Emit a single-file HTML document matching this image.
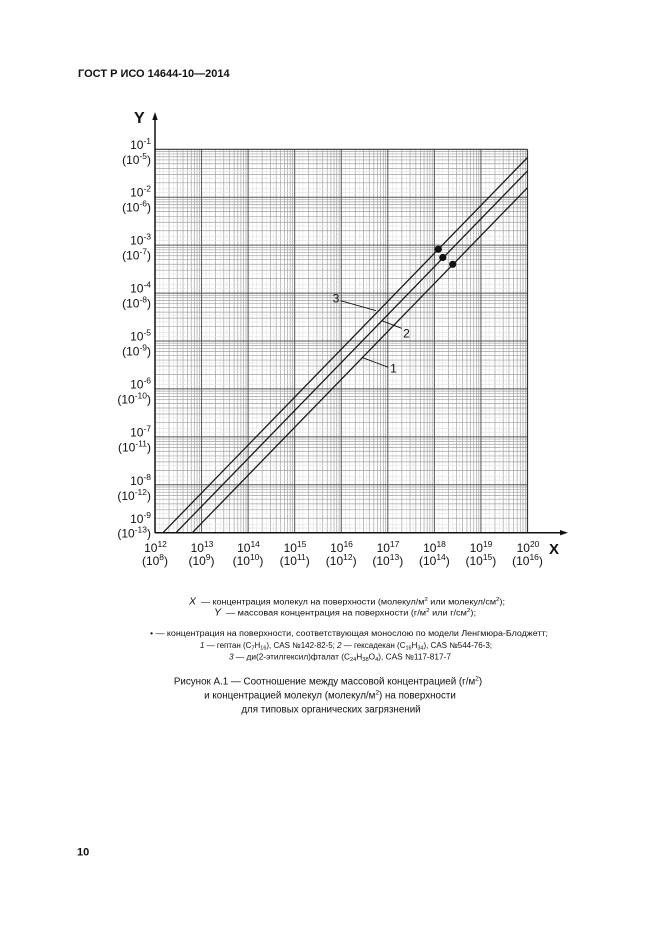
<!DOCTYPE html>
<html><head><meta charset="utf-8">
<style>
html,body{margin:0;padding:0;background:#fff;}
svg{display:block;}
text{font-family:"Liberation Sans",Arial,sans-serif;fill:#111;}
</style></head>
<body>
<svg width="661" height="935" viewBox="0 0 661 935" xmlns="http://www.w3.org/2000/svg">
<rect width="661" height="935" fill="#fff"/>
<defs>
  <g id="vdec">
    <g stroke="#e2e2e2" stroke-width="0.6">
      <line x1="4.5" y1="149.3" x2="4.5" y2="532.7"/>
      <line x1="8.2" y1="149.3" x2="8.2" y2="532.7"/>
      <line x1="18.529" y1="149.3" x2="18.529" y2="532.7"/>
      <line x1="25.33" y1="149.3" x2="25.33" y2="532.7"/>
    </g>
    <g stroke="#a2a2a2" stroke-width="0.7">
      <line x1="14.017" y1="149.3" x2="14.017" y2="532.7"/>
      <line x1="22.216" y1="149.3" x2="22.216" y2="532.7"/>
      <line x1="28.034" y1="149.3" x2="28.034" y2="532.7"/>
      <line x1="32.545" y1="149.3" x2="32.545" y2="532.7"/>
      <line x1="36.233" y1="149.3" x2="36.233" y2="532.7"/>
      <line x1="39.35" y1="149.3" x2="39.35" y2="532.7"/>
      <line x1="42.05" y1="149.3" x2="42.05" y2="532.7"/>
      <line x1="44.432" y1="149.3" x2="44.432" y2="532.7"/>
    </g>
  </g>
  <g id="hdec">
    <g stroke="#e2e2e2" stroke-width="0.6">
      <line x1="155" y1="21.85" x2="527.5" y2="21.85"/>
      <line x1="155" y1="28.854" x2="527.5" y2="28.854"/>
      <line x1="155" y1="39.5" x2="527.5" y2="39.5"/>
      <line x1="155" y1="43.3" x2="527.5" y2="43.3"/>
    </g>
    <g stroke="#a2a2a2" stroke-width="0.7">
      <line x1="155" y1="2.193" x2="527.5" y2="2.193"/>
      <line x1="155" y1="4.644" x2="527.5" y2="4.644"/>
      <line x1="155" y1="7.424" x2="527.5" y2="7.424"/>
      <line x1="155" y1="10.632" x2="527.5" y2="10.632"/>
      <line x1="155" y1="14.427" x2="527.5" y2="14.427"/>
      <line x1="155" y1="19.071" x2="527.5" y2="19.071"/>
      <line x1="155" y1="25.059" x2="527.5" y2="25.059"/>
      <line x1="155" y1="33.498" x2="527.5" y2="33.498"/>
    </g>
  </g>
</defs>

<!-- header -->
<text x="78" y="77" font-size="11" font-weight="bold">ГОСТ Р ИСО 14644-10—2014</text>

<!-- minor grid -->
<use href="#vdec" x="155"/>
<use href="#vdec" x="201.5625"/>
<use href="#vdec" x="248.125"/>
<use href="#vdec" x="294.6875"/>
<use href="#vdec" x="341.25"/>
<use href="#vdec" x="387.8125"/>
<use href="#vdec" x="434.375"/>
<use href="#vdec" x="480.9375"/>
<use href="#hdec" y="149.3"/>
<use href="#hdec" y="197.225"/>
<use href="#hdec" y="245.15"/>
<use href="#hdec" y="293.075"/>
<use href="#hdec" y="341"/>
<use href="#hdec" y="388.925"/>
<use href="#hdec" y="436.85"/>
<use href="#hdec" y="484.775"/>

<!-- decade lines -->
<g stroke="#555" stroke-width="1">
  <line x1="201.5625" y1="149.3" x2="201.5625" y2="532.7"/>
  <line x1="248.125" y1="149.3" x2="248.125" y2="532.7"/>
  <line x1="294.6875" y1="149.3" x2="294.6875" y2="532.7"/>
  <line x1="341.25" y1="149.3" x2="341.25" y2="532.7"/>
  <line x1="387.8125" y1="149.3" x2="387.8125" y2="532.7"/>
  <line x1="434.375" y1="149.3" x2="434.375" y2="532.7"/>
  <line x1="480.9375" y1="149.3" x2="480.9375" y2="532.7"/>
  <line x1="155" y1="197.225" x2="527.5" y2="197.225"/>
  <line x1="155" y1="245.15" x2="527.5" y2="245.15"/>
  <line x1="155" y1="293.075" x2="527.5" y2="293.075"/>
  <line x1="155" y1="341" x2="527.5" y2="341"/>
  <line x1="155" y1="388.925" x2="527.5" y2="388.925"/>
  <line x1="155" y1="436.85" x2="527.5" y2="436.85"/>
  <line x1="155" y1="484.775" x2="527.5" y2="484.775"/>
</g>
<g stroke="#333" stroke-width="1.2">
  <line x1="155" y1="149.3" x2="527.5" y2="149.3"/>
  <line x1="527.5" y1="149.3" x2="527.5" y2="532.7"/>
</g>

<!-- axes -->
<g stroke="#111" stroke-width="1.5">
  <line x1="155" y1="533" x2="155" y2="117"/>
  <line x1="155" y1="532.7" x2="563" y2="532.7"/>
</g>
<polygon points="155,112 152.3,120 157.7,120" fill="#111"/>
<polygon points="568,532.7 560,530 560,535.4" fill="#111"/>
<text x="134" y="123" font-size="16" font-weight="bold">Y</text>
<text x="549" y="554" font-size="15" font-weight="bold">X</text>

<!-- data lines -->
<g stroke="#1a1a1a" stroke-width="1.3" fill="none">
  <line x1="163" y1="532.7" x2="527.5" y2="157.5"/>
  <line x1="176" y1="532.7" x2="527.5" y2="170.9"/>
  <line x1="192.3" y1="532.7" x2="527.5" y2="187.7"/>
</g>
<g fill="#111">
  <circle cx="438.3" cy="249.2" r="3.6"/>
  <circle cx="442.8" cy="257.5" r="3.6"/>
  <circle cx="452.7" cy="264.3" r="3.6"/>
</g>

<!-- line labels -->
<g stroke="#111" stroke-width="0.9">
  <line x1="340.7" y1="300.7" x2="376" y2="310.7"/>
  <line x1="381.7" y1="320.7" x2="401.7" y2="328.3"/>
  <line x1="361.7" y1="357.3" x2="388.3" y2="367.3"/>
</g>
<text x="336" y="302.5" font-size="12" text-anchor="middle">3</text>
<text x="406.5" y="337.5" font-size="12" text-anchor="middle">2</text>
<text x="393.5" y="372.5" font-size="12" text-anchor="middle">1</text>

<!-- Y tick labels -->
<g font-size="12" text-anchor="end">
  <text x="151" y="148.8">10<tspan font-size="8.5" dy="-5">-1</tspan></text>
  <text x="151" y="163.8">(10<tspan font-size="8.5" dy="-5">-5</tspan><tspan dy="5">)</tspan></text>
  <text x="151" y="196.7">10<tspan font-size="8.5" dy="-5">-2</tspan></text>
  <text x="151" y="211.7">(10<tspan font-size="8.5" dy="-5">-6</tspan><tspan dy="5">)</tspan></text>
  <text x="151" y="244.6">10<tspan font-size="8.5" dy="-5">-3</tspan></text>
  <text x="151" y="259.6">(10<tspan font-size="8.5" dy="-5">-7</tspan><tspan dy="5">)</tspan></text>
  <text x="151" y="292.5">10<tspan font-size="8.5" dy="-5">-4</tspan></text>
  <text x="151" y="307.5">(10<tspan font-size="8.5" dy="-5">-8</tspan><tspan dy="5">)</tspan></text>
  <text x="151" y="340.5">10<tspan font-size="8.5" dy="-5">-5</tspan></text>
  <text x="151" y="355.5">(10<tspan font-size="8.5" dy="-5">-9</tspan><tspan dy="5">)</tspan></text>
  <text x="151" y="388.4">10<tspan font-size="8.5" dy="-5">-6</tspan></text>
  <text x="151" y="403.4">(10<tspan font-size="8.5" dy="-5">-10</tspan><tspan dy="5">)</tspan></text>
  <text x="151" y="436.5">10<tspan font-size="8.5" dy="-5">-7</tspan></text>
  <text x="151" y="451.5">(10<tspan font-size="8.5" dy="-5">-11</tspan><tspan dy="5">)</tspan></text>
  <text x="151" y="485">10<tspan font-size="8.5" dy="-5">-8</tspan></text>
  <text x="151" y="500">(10<tspan font-size="8.5" dy="-5">-12</tspan><tspan dy="5">)</tspan></text>
  <text x="151" y="523">10<tspan font-size="8.5" dy="-5">-9</tspan></text>
  <text x="151" y="537.5">(10<tspan font-size="8.5" dy="-5">-13</tspan><tspan dy="5">)</tspan></text>
</g>

<!-- X tick labels -->
<g font-size="12" text-anchor="middle">
  <text x="155.5" y="552">10<tspan font-size="8.5" dy="-5">12</tspan></text>
  <text x="155" y="565">(10<tspan font-size="8.5" dy="-5">8</tspan><tspan dy="5">)</tspan></text>
  <text x="202" y="552">10<tspan font-size="8.5" dy="-5">13</tspan></text>
  <text x="201.5" y="565">(10<tspan font-size="8.5" dy="-5">9</tspan><tspan dy="5">)</tspan></text>
  <text x="248.5" y="552">10<tspan font-size="8.5" dy="-5">14</tspan></text>
  <text x="248" y="565">(10<tspan font-size="8.5" dy="-5">10</tspan><tspan dy="5">)</tspan></text>
  <text x="295" y="552">10<tspan font-size="8.5" dy="-5">15</tspan></text>
  <text x="294.7" y="565">(10<tspan font-size="8.5" dy="-5">11</tspan><tspan dy="5">)</tspan></text>
  <text x="341.5" y="552">10<tspan font-size="8.5" dy="-5">16</tspan></text>
  <text x="341.2" y="565">(10<tspan font-size="8.5" dy="-5">12</tspan><tspan dy="5">)</tspan></text>
  <text x="388" y="552">10<tspan font-size="8.5" dy="-5">17</tspan></text>
  <text x="387.8" y="565">(10<tspan font-size="8.5" dy="-5">13</tspan><tspan dy="5">)</tspan></text>
  <text x="434.5" y="552">10<tspan font-size="8.5" dy="-5">18</tspan></text>
  <text x="434.4" y="565">(10<tspan font-size="8.5" dy="-5">14</tspan><tspan dy="5">)</tspan></text>
  <text x="481" y="552">10<tspan font-size="8.5" dy="-5">19</tspan></text>
  <text x="480.9" y="565">(10<tspan font-size="8.5" dy="-5">15</tspan><tspan dy="5">)</tspan></text>
  <text x="528" y="552">10<tspan font-size="8.5" dy="-5">20</tspan></text>
  <text x="527.5" y="565">(10<tspan font-size="8.5" dy="-5">16</tspan><tspan dy="5">)</tspan></text>
</g>

<!-- legend -->
<g font-size="8" fill="#222">
  <text x="189" y="604.5" font-size="10.5" font-style="italic">X</text>
  <text x="201" y="604.5" textLength="304" lengthAdjust="spacingAndGlyphs">— концентрация молекул на поверхности (молекул/м<tspan font-size="5.5" dy="-3.5">2</tspan><tspan dy="3.5"> или молекул/см</tspan><tspan font-size="5.5" dy="-3.5">2</tspan><tspan dy="3.5">);</tspan></text>
  <text x="214" y="615.5" font-size="10.5" font-style="italic">Y</text>
  <text x="226" y="615.5" textLength="250" lengthAdjust="spacingAndGlyphs">— массовая концентрация на поверхности (г/м<tspan font-size="5.5" dy="-3.5">2</tspan><tspan dy="3.5"> или г/см</tspan><tspan font-size="5.5" dy="-3.5">2</tspan><tspan dy="3.5">);</tspan></text>
  <text x="150" y="636" textLength="398" lengthAdjust="spacingAndGlyphs">• — концентрация на поверхности, соответствующая монослою по модели Ленгмюра-Блоджетт;</text>
  <text x="200" y="648" textLength="292" lengthAdjust="spacingAndGlyphs"><tspan font-style="italic">1</tspan> — гептан (C<tspan font-size="5.5" dy="1.5">7</tspan><tspan dy="-1.5">H</tspan><tspan font-size="5.5" dy="1.5">16</tspan><tspan dy="-1.5">), CAS №142-82-5; </tspan><tspan font-style="italic">2</tspan> — гексадекан (C<tspan font-size="5.5" dy="1.5">16</tspan><tspan dy="-1.5">H</tspan><tspan font-size="5.5" dy="1.5">34</tspan><tspan dy="-1.5">), CAS №544-76-3;</tspan></text>
  <text x="229" y="659.5" textLength="222" lengthAdjust="spacingAndGlyphs"><tspan font-style="italic">3</tspan> — ди(2-этилгексил)фталат (C<tspan font-size="5.5" dy="1.5">24</tspan><tspan dy="-1.5">H</tspan><tspan font-size="5.5" dy="1.5">38</tspan><tspan dy="-1.5">O</tspan><tspan font-size="5.5" dy="1.5">4</tspan><tspan dy="-1.5">), CAS №117-817-7</tspan></text>
</g>

<!-- caption -->
<g font-size="9.8" text-anchor="middle" fill="#111">
  <text x="328" y="684.5">Рисунок А.1 — Соотношение между массовой концентрацией (г/м<tspan font-size="6.5" dy="-4">2</tspan><tspan dy="4">)</tspan></text>
  <text x="330" y="698.5">и концентрацией молекул (молекул/м<tspan font-size="6.5" dy="-4">2</tspan><tspan dy="4">) на поверхности</tspan></text>
  <text x="331" y="712.5">для типовых органических загрязнений</text>
</g>

<!-- page number -->
<text x="77" y="855.5" font-size="11" font-weight="bold">10</text>
</svg>
</body></html>
